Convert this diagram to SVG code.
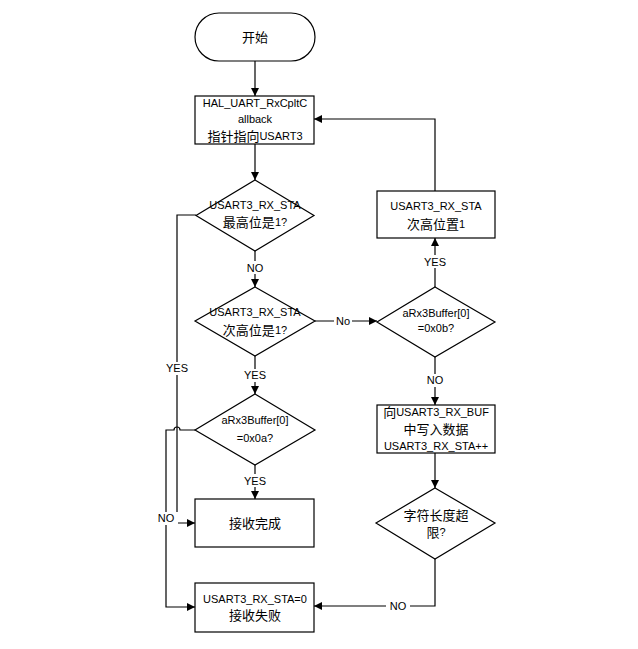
<svg xmlns="http://www.w3.org/2000/svg" width="638" height="649" viewBox="0 0 638 649">
<defs>
<marker id="ah" viewBox="0 0 10 10" refX="10" refY="5" markerWidth="8" markerHeight="8" markerUnits="userSpaceOnUse" orient="auto">
<path d="M0,0 L10,5 L0,10 z" fill="#000"/>
</marker>
<style>
.s{fill:#fff;stroke:#000;stroke-width:1.2}
.c{fill:none;stroke:#000;stroke-width:1.2;marker-end:url(#ah)}
.l{fill:none;stroke:#000;stroke-width:1.2}
text{font-family:"Liberation Sans","Noto Sans CJK SC",sans-serif;font-size:11px;text-anchor:middle;dominant-baseline:central;fill:#000}
.cj{font-size:13px}
.lb{fill:#fff;stroke:none}
</style>
</defs>
<rect width="638" height="649" fill="#fff"/>
<g id="connectors">
<path class="c" d="M255,61 V96"/>
<path class="c" d="M255,144 V180"/>
<path class="c" d="M255,251 V287"/>
<path class="c" d="M255,356 V394"/>
<path class="c" d="M255,465 V499"/>
<path class="c" d="M196,215 H177 V523 H195"/>
<path class="c" d="M195,430 H180 A3,3 0 0 0 174,430 H166 V607 H195"/>
<path class="c" d="M315,321 H377"/>
<path class="c" d="M435,287 V238"/>
<path class="c" d="M435,191 V119 H314"/>
<path class="c" d="M435,357 V405"/>
<path class="c" d="M435,453 V488"/>
<path class="c" d="M435,559 V606 H314"/>
<rect class="lb" x="243" y="261" width="24" height="13"/>
<text x="255" y="268">NO</text>
<rect class="lb" x="242" y="369" width="26" height="13"/>
<text x="255" y="375">YES</text>
<rect class="lb" x="242" y="474" width="26" height="13"/>
<text x="255" y="481">YES</text>
<rect class="lb" x="164" y="362" width="26" height="13"/>
<text x="177" y="368">YES</text>
<rect class="lb" x="154" y="512" width="24" height="13"/>
<text x="166" y="518">NO</text>
<rect class="lb" x="334" y="315" width="18" height="13"/>
<text x="343" y="321">No</text>
<rect class="lb" x="422" y="255" width="26" height="13"/>
<text x="435" y="262">YES</text>
<rect class="lb" x="423" y="374" width="24" height="13"/>
<text x="435" y="380">NO</text>
<rect class="lb" x="386" y="600" width="24" height="13"/>
<text x="398" y="606">NO</text>
</g>
<g id="start">
<rect class="s" x="195" y="13" width="120" height="48" rx="24"/>
<text x="255" y="37" class="cj">开始</text>
</g>
<g id="callback">
<rect class="s" x="195" y="96" width="119" height="48"/>
<text x="255" y="103">HAL_UART_RxCpltC</text>
<text x="255" y="119">allback</text>
<text x="255" y="136"><tspan class="cj">指针指向</tspan>USART3</text>
</g>
<g id="d1">
<path class="s" d="M255,180 L314,215.5 L255,251 L196,215.5 Z"/>
<text x="255" y="205">USART3_RX_STA</text>
<text x="255" y="222"><tspan class="cj">最高位是</tspan>1?</text>
</g>
<g id="d2">
<path class="s" d="M255,287 L315,321 L255,356 L195,321 Z"/>
<text x="255" y="312">USART3_RX_STA</text>
<text x="255" y="330"><tspan class="cj">次高位是</tspan>1?</text>
</g>
<g id="d3">
<path class="s" d="M255,394 L315,430 L255,465 L195,430 Z"/>
<text x="255" y="420">aRx3Buffer[0]</text>
<text x="255" y="438">=0x0a?</text>
</g>
<g id="done">
<rect class="s" x="195" y="499" width="119" height="48"/>
<text x="255" y="523" class="cj">接收完成</text>
</g>
<g id="fail">
<rect class="s" x="195" y="583" width="119" height="49"/>
<text x="255" y="599">USART3_RX_STA=0</text>
<text x="255" y="615" class="cj">接收失败</text>
</g>
<g id="setbit">
<rect class="s" x="377" y="191" width="118" height="47"/>
<text x="436" y="206">USART3_RX_STA</text>
<text x="436" y="224"><tspan class="cj">次高位置</tspan>1</text>
</g>
<g id="d4">
<path class="s" d="M435,287 L495,322 L435,357 L377,322 Z"/>
<text x="436" y="313">aRx3Buffer[0]</text>
<text x="436" y="328">=0x0b?</text>
</g>
<g id="write">
<rect class="s" x="377" y="405" width="118" height="48"/>
<text x="436" y="412"><tspan class="cj">向</tspan>USART3_RX_BUF</text>
<text x="436" y="429" class="cj">中写入数据</text>
<text x="436" y="446">USART3_RX_STA++</text>
</g>
<g id="d5">
<path class="s" d="M435,488 L495,523 L435,559 L376,523 Z"/>
<text x="436" y="515" class="cj">字符长度超</text>
<text x="436" y="532"><tspan class="cj">限</tspan>?</text>
</g>
</svg>
